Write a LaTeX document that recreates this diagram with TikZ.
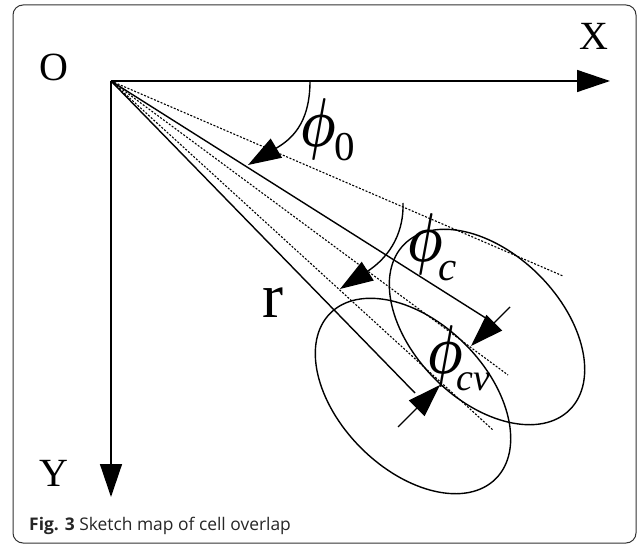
\documentclass[tikz,border=0pt]{standalone}
\usepackage{graphicx}
\usepackage{amsmath}
\usepackage{fontspec}
\setmainfont{Liberation Serif}
\newfontfamily\capfont{Open Sans}
\usetikzlibrary{arrows.meta}
\newcommand{\bigphi}{\scalebox{5.0}[6.9]{$\boldsymbol{\phi}$}}
\begin{document}
\begin{tikzpicture}[x=1pt,y=-1pt,
  ln/.style={line width=1.4pt},
  dotln/.style={line width=1.1pt, dash pattern=on 2pt off 1.6pt},
  tipA/.style={-{Triangle[length=33pt,width=22pt]}},
  lbl/.style={inner sep=0pt, anchor=base},
  axlbl/.style={lbl, font=\fontsize{40}{40}\selectfont},
  philbl/.style={inner sep=0pt, anchor=base west, font=\fontsize{10}{10}\selectfont},
  ]
\useasboundingbox (0,0) rectangle (637,545);
\draw[line width=1pt, black!80, rounded corners=10pt] (13,5) rectangle (636,543);

% points
\coordinate (O) at (111,81);
\coordinate (Xend) at (610,81);
\coordinate (Yend) at (111,497);
\coordinate (d1) at (563,276);
\coordinate (s1) at (492,322);
\coordinate (d2) at (508,375);
\coordinate (d3) at (493,430);
\coordinate (s2) at (415,393);
\coordinate (C1) at (487,327);
\coordinate (C2) at (413,396);
\coordinate (a0s) at (310,81);
\coordinate (a0e) at (248,165);
\coordinate (acs) at (403,203);
\coordinate (ace) at (340,289);
\coordinate (dAs) at (510,307);
\coordinate (dAe) at (471,346);
\coordinate (dBs) at (398,427);
\coordinate (dBe) at (440,385);

% axes
\draw[ln,tipA] (O) -- (Xend);
\draw[ln,tipA] (O) -- (Yend);

% rays
\draw[dotln] (O) -- (d1);
\draw[ln] (O) -- (s1);
\draw[dotln] (O) -- (d2);
\draw[dotln] (O) -- (d3);
\draw[ln] (O) -- (s2);

% ellipses
\draw[ln, rotate around={-45:(C1)}] (C1) ellipse [x radius=117pt, y radius=73.5pt];
\draw[ln, rotate around={-45:(C2)}] (C2) ellipse [x radius=117pt, y radius=73.5pt];

% angle arcs
\draw[ln,tipA] (a0s) .. controls (310,125) and (290,140) .. (a0e);
\draw[ln,tipA] (acs) .. controls (404,238) and (385,260) .. (ace);

% dimension arrows
\draw[ln,tipA] (dAs) -- (dAe);
\draw[ln,tipA] (dBs) -- (dBe);

% labels
\node[axlbl] (lO) at (53.5,80.5) {O};
\node[axlbl] (lX) at (594,50) {X};
\node[axlbl] (lY) at (54,486.7) {Y};
\node[lbl, font=\fontsize{63}{63}\selectfont] (lr) at (273,317) {r};
\node[philbl] (p0) at (300,146.5) {\bigphi\kern-1pt\raisebox{-14.5pt}{\fontsize{41}{41}\selectfont 0}};
\node[philbl] (pc) at (407,261.4) {\bigphi\kern-4pt\raisebox{-18.6pt}{\fontsize{41}{41}\selectfont\itshape c}};
\node[philbl] (pcv) at (427,373.4) {\bigphi\kern-6pt\raisebox{-16.6pt}{\fontsize{38}{38}\selectfont\itshape cv}};

% caption
\node[inner sep=0pt, anchor=base west, font=\capfont\fontsize{17.4}{17.4}\selectfont, text=black!85] (cap) at (29,530) {{\bfseries Fig. 3} Sketch map of cell overlap};
\end{tikzpicture}
\end{document}
